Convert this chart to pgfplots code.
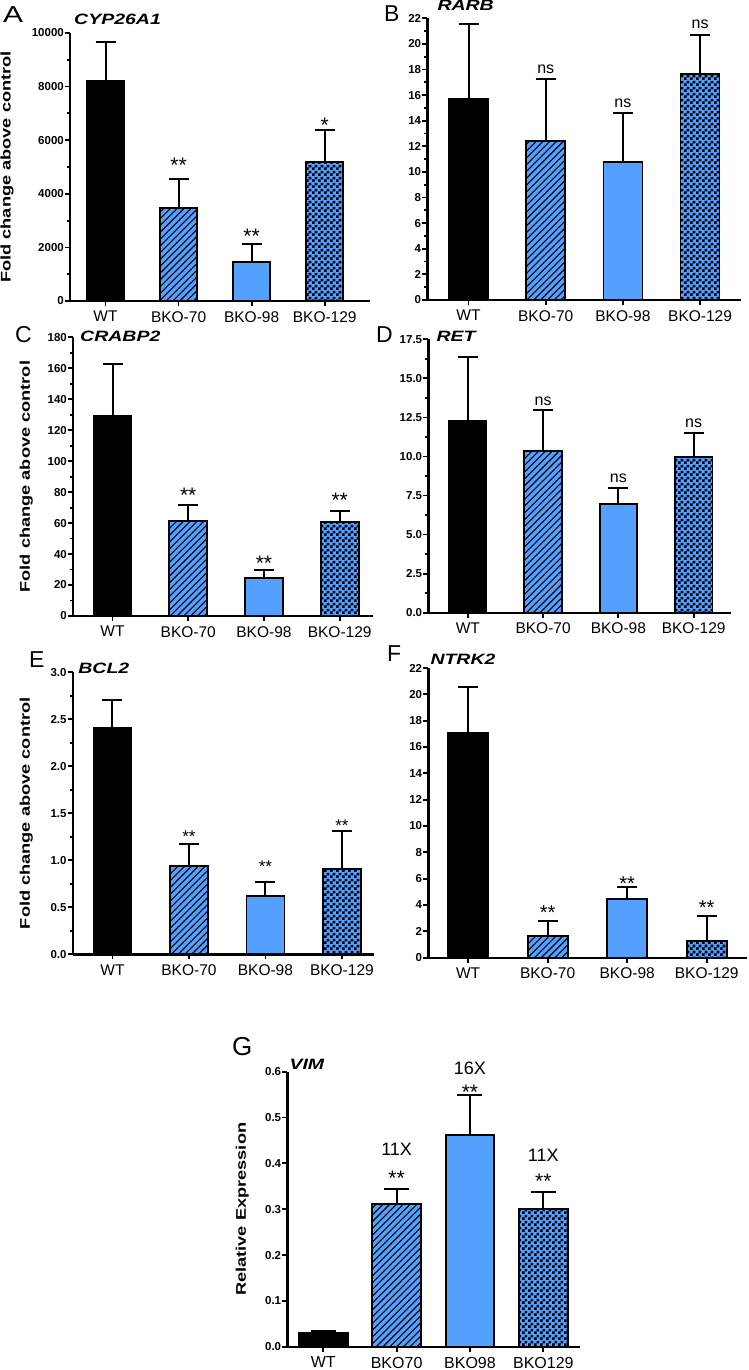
\documentclass[border=0pt]{standalone}
\usepackage{fontspec}
\setmainfont{Liberation Sans}
\usepackage{pgfplots}
\pgfplotsset{compat=1.18}
\usetikzlibrary{patterns,patterns.meta}

\definecolor{kblue}{RGB}{84,160,255}

% checkerboard with 3pt squares
\pgfdeclarepatternformonly{checks}{\pgfpointorigin}{\pgfqpoint{6pt}{6pt}}{\pgfqpoint{6pt}{6pt}}{%
  \pgfpathrectangle{\pgfpointorigin}{\pgfqpoint{3pt}{3pt}}%
  \pgfpathrectangle{\pgfqpoint{3pt}{3pt}}{\pgfqpoint{3pt}{3pt}}%
  \pgfusepath{fill}}

\newcommand{\fs}[1]{\fontsize{#1}{#1}\selectfont}

\pgfplotsset{
  panel/.style={
    scale only axis,
    axis lines*=left,
    axis line style={line width=2.4pt},
    tick align=outside,
    major tick length=5pt,
    minor tick length=3pt,
    every tick/.style={black, line width=1.8pt},
    ymin=0,
    scaled y ticks=false,
    xtick={0,1,2,3},
    xticklabels={WT,BKO-70,BKO-98,BKO-129},
    clip=false,
    yticklabel style={font=\bfseries\fs{11.5}, inner sep=1pt},
    xticklabel style={font=\fs{15.5}, inner sep=0pt, anchor=north, yshift=-5pt},
    /pgf/number format/assume math mode=true,
    /pgf/number format/1000 sep={},
    error bars/error bar style={line width=2pt, black, solid},
    error bars/error mark options={rotate=90, line width=2pt, black, mark size=10pt},
    ylabel style={font=\bfseries\fs{14}, inner sep=0pt, anchor=south},
    title style={anchor=base west, inner sep=0pt, font=\fs{15}},
  },
  bar/.style={ybar, bar shift=0pt, draw=black, line width=1.8pt,
    error bars/y dir=plus, error bars/y explicit},
  bwt/.style={bar, fill=black},
  b70/.style={bar, fill=kblue,
    postaction={pattern={Lines[angle=45,distance=4.8pt,line width=1.1pt]}, pattern color=black}},
  b98/.style={bar, fill=kblue},
  b129/.style={bar, fill=kblue, postaction={pattern=checks, pattern color=black}},
  star/.style={draw=none, mark=none, nodes near coords, point meta=explicit symbolic,
    nodes near coords style={font=\fs{#1}, anchor=base, inner sep=0pt, yshift=-0.42*#1pt}},
  lbl/.style={draw=none, mark=none, nodes near coords, point meta=explicit symbolic,
    nodes near coords style={font=\fs{#1}, anchor=base, inner sep=0pt}},
}

\begin{document}
\begin{tikzpicture}
\useasboundingbox (0pt,0pt) rectangle (748pt,-1370pt);

% ---------- A ----------
\begin{axis}[panel, at={(70pt,-301pt)}, anchor=south west,
  width=300pt, height=268pt, xmin=-0.486, xmax=3.62, bar width=37pt,
  ymax=10000, ytick={0,2000,...,10000}, minor y tick num=1,
  ylabel={\scalebox{1.3}[1]{Fold change above control}},
  ylabel style={at={(axis description cs:-0.187,0.5)}},
  title={\scalebox{1.3}[1]{\bfseries\itshape CYP26A1}},
  title style={at={(axis description cs:0,1)}, xshift=4pt, yshift=2.3pt}]
\addplot[bwt]  coordinates {(0,8220) +- (0,1430)};
\addplot[b70]  coordinates {(1,3460) +- (0,1090)};
\addplot[b98]  coordinates {(2,1470) +- (0,645)};
\addplot[b129] coordinates {(3,5175) +- (0,1205)};
\addplot[star=21] coordinates {(1,5138)[**] (2,2463)[**] (3,6631)[*]};
\end{axis}

% ---------- B ----------
\begin{axis}[panel, at={(427.3pt,-300pt)}, anchor=south west,
  width=313.7pt, height=281.7pt, xmin=-0.534, xmax=3.53, bar width=39pt,
  ymax=22, ytick={0,2,...,22}, minor y tick num=1,
  title={\scalebox{1.3}[1]{\bfseries\itshape RARB}},
  title style={at={(axis description cs:0,1)}, xshift=10pt, yshift=1.6pt}]
\addplot[bwt]  coordinates {(0,15.70) +- (0,5.83)};
\addplot[b70]  coordinates {(1,12.44) +- (0,4.84)};
\addplot[b98]  coordinates {(2,10.80) +- (0,3.83)};
\addplot[b129] coordinates {(3,17.65) +- (0,3.05)};
\addplot[lbl=16] coordinates {(1,17.66)[ns] (2,15.02)[ns] (3,21.2)[ns]};
\end{axis}

% ---------- C ----------
\begin{axis}[panel, at={(73pt,-616pt)}, anchor=south west,
  width=300pt, height=278.7pt, xmin=-0.522, xmax=3.44, bar width=38pt,
  ymax=180, ytick={0,20,...,180}, minor y tick num=1,
  ylabel={\scalebox{1.3}[1]{Fold change above control}},
  ylabel style={at={(axis description cs:-0.133,0.5)}},
  title={\scalebox{1.3}[1]{\bfseries\itshape CRABP2}},
  title style={at={(axis description cs:0,1)}, xshift=7pt, yshift=-9.7pt}]
\addplot[bwt]  coordinates {(0,129.2) +- (0,33.8)};
\addplot[b70]  coordinates {(1,61.4) +- (0,10.5)};
\addplot[b98]  coordinates {(2,24.5) +- (0,5.0)};
\addplot[b129] coordinates {(3,60.7) +- (0,7.3)};
\addplot[star=21] coordinates {(1,78.8)[**] (2,35.1)[**] (3,76.0)[**]};
\end{axis}

% ---------- D ----------
\begin{axis}[panel, at={(428.3pt,-612.7pt)}, anchor=south west,
  width=303pt, height=273.4pt, xmin=-0.525, xmax=3.5, bar width=37.5pt,
  ymax=17.5, ytick={0,2.5,...,17.5}, minor y tick num=1,
  yticklabel style={/pgf/number format/.cd, fixed, fixed zerofill, precision=1},
  title={\scalebox{1.3}[1]{\bfseries\itshape RET}},
  title style={at={(axis description cs:0,1)}, xshift=8pt, yshift=-7.7pt}]
\addplot[bwt]  coordinates {(0,12.29) +- (0,4.05)};
\addplot[b70]  coordinates {(1,10.35) +- (0,2.62)};
\addplot[b98]  coordinates {(2,6.97) +- (0,1.03)};
\addplot[b129] coordinates {(3,9.98) +- (0,1.50)};
\addplot[lbl=16] coordinates {(1,13.29)[ns] (2,8.34)[ns] (3,11.86)[ns]};
\end{axis}

% ---------- E ----------
\begin{axis}[panel, at={(72.7pt,-954.3pt)}, anchor=south west,
  width=301.3pt, height=282pt, xmin=-0.52, xmax=3.42, bar width=38pt,
  ymax=3, ytick={0,0.5,...,3}, minor y tick num=1,
  yticklabel style={/pgf/number format/.cd, fixed, fixed zerofill, precision=1},
  ylabel={\scalebox{1.3}[1]{Fold change above control}},
  ylabel style={at={(axis description cs:-0.132,0.5)}},
  title={\scalebox{1.3}[1]{\bfseries\itshape BCL2}},
  title style={at={(axis description cs:0,1)}, xshift=5.5pt, yshift=-7pt}]
\addplot[bwt]  coordinates {(0,2.41) +- (0,0.295)};
\addplot[b70]  coordinates {(1,0.936) +- (0,0.241)};
\addplot[b98]  coordinates {(2,0.617) +- (0,0.155)};
\addplot[b129] coordinates {(3,0.907) +- (0,0.405)};
\addplot[star=17] coordinates {(1,1.262)[**] (2,0.95)[**] (3,1.386)[**]};
\end{axis}

% ---------- F ----------
\begin{axis}[panel, at={(428.3pt,-957.7pt)}, anchor=south west,
  width=319pt, height=289.7pt, xmin=-0.50, xmax=3.51, bar width=40pt,
  ymax=22, ytick={0,2,...,22},
  title={\scalebox{1.3}[1]{\bfseries\itshape NTRK2}},
  title style={at={(axis description cs:0,1)}, xshift=2pt, yshift=-2pt}]
\addplot[bwt]  coordinates {(0,17.04) +- (0,3.49)};
\addplot[b70]  coordinates {(1,1.62) +- (0,1.19)};
\addplot[b98]  coordinates {(2,4.43) +- (0,0.92)};
\addplot[b129] coordinates {(3,1.245) +- (0,1.945)};
\addplot[star=20] coordinates {(1,3.57)[**] (2,5.72)[**] (3,3.93)[**]};
\end{axis}

% ---------- G ----------
\begin{axis}[panel, at={(287.3pt,-1346.7pt)}, anchor=south west,
  width=292.7pt, height=275pt, xmin=-0.49, xmax=3.5, bar width=48.7pt,
  ymax=0.6, ytick={0,0.1,...,0.6},
  yticklabel style={/pgf/number format/.cd, fixed, fixed zerofill, precision=1},
  xticklabels={WT,BKO70,BKO98,BKO129},
  xticklabel style={font=\fs{16}},
  error bars/error mark options={rotate=90, line width=2pt, black, mark size=12.5pt},
  ylabel={\scalebox{1.3}[1]{Relative Expression}},
  ylabel style={at={(axis description cs:-0.131,0.5)}},
  title={\scalebox{1.3}[1]{\bfseries\itshape VIM}},
  title style={at={(axis description cs:0,1)}, xshift=2pt, yshift=-3.3pt}]
\addplot[bwt]  coordinates {(0,0.0305) +- (0,0.0035)};
\addplot[b70]  coordinates {(1,0.311) +- (0,0.034)};
\addplot[b98]  coordinates {(2,0.462) +- (0,0.087)};
\addplot[b129] coordinates {(3,0.300) +- (0,0.0375)};
\addplot[star=21] coordinates {(1,0.371)[**] (2,0.5586)[**] (3,0.365)[**]};
\addplot[lbl=18] coordinates {(1,0.418)[11X] (2,0.595)[16X] (3,0.404)[11X]};
\end{axis}

% panel letters
\node[anchor=base west, inner sep=0pt, font=\fs{23}] at (3pt,-22.7pt) {\scalebox{1.3}[1]{A}};
\node[anchor=base west, inner sep=0pt, font=\fs{23}] at (384pt,-21.7pt) {B};
\node[anchor=base west, inner sep=0pt, font=\fs{23}] at (15pt,-342pt) {C};
\node[anchor=base west, inner sep=0pt, font=\fs{23}] at (376pt,-342pt) {D};
\node[anchor=base west, inner sep=0pt, font=\fs{23}] at (29pt,-667pt) {E};
\node[anchor=base west, inner sep=0pt, font=\fs{23}] at (387pt,-661pt) {F};
\node[anchor=base west, inner sep=0pt, font=\fs{26}] at (232pt,-1055pt) {G};
\end{tikzpicture}
\end{document}
